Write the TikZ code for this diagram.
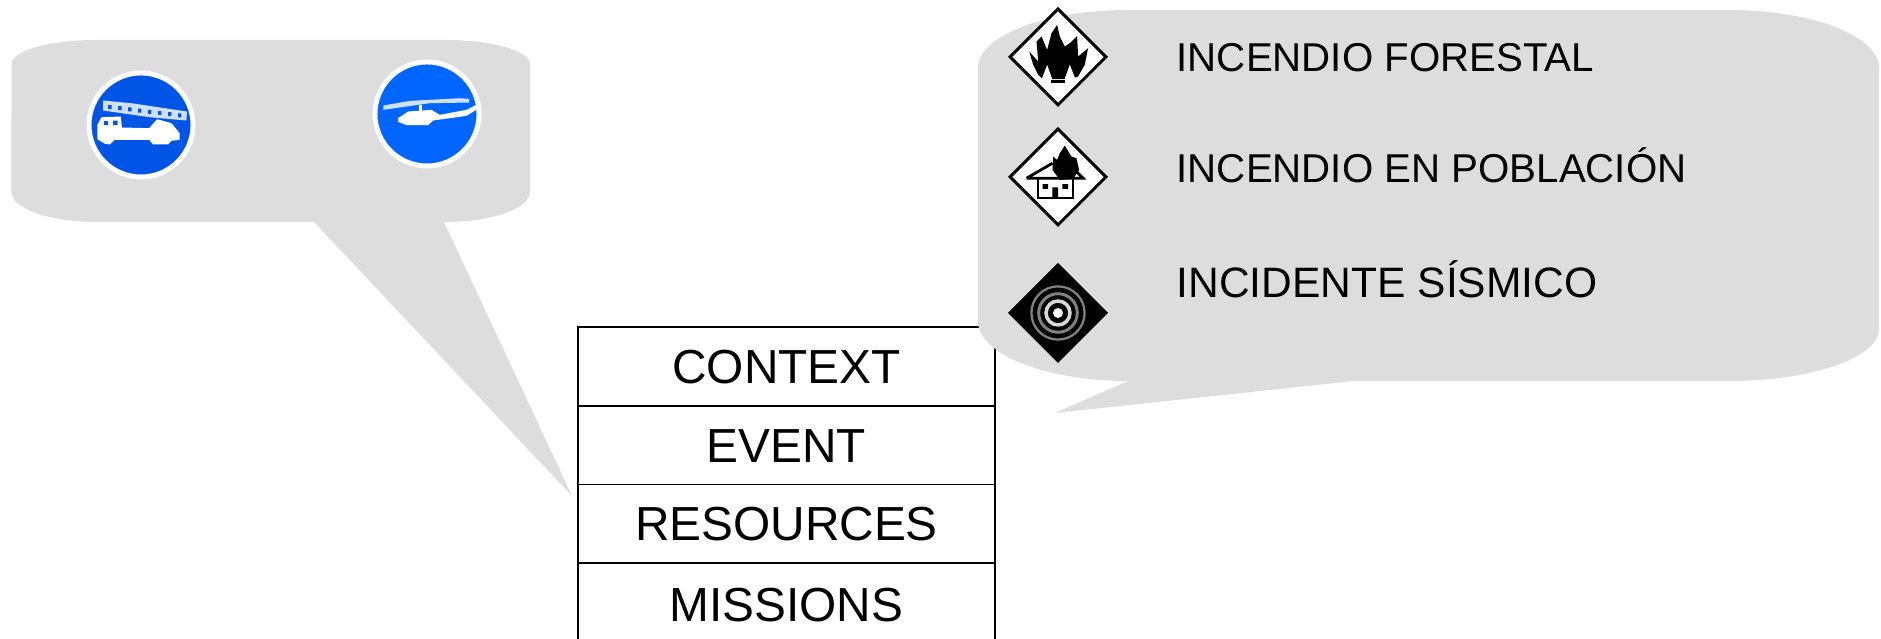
\documentclass[tikz,border=0pt]{standalone}
\usepackage{fontspec}
\setmainfont{Liberation Sans}
\usepackage{xcolor}
\usetikzlibrary{positioning,shapes,shapes.geometric}
\definecolor{bubblegray}{HTML}{DDDDDD}
\definecolor{truckblue}{HTML}{0055E6}
\definecolor{heliblue}{HTML}{0066FF}
\definecolor{paleblue}{HTML}{CFE0FB}

\begin{document}
\begin{tikzpicture}[-, node distance=0.7867cm,
	row/.style={rectangle, draw=black, line width=0.5pt, minimum width=4.17cm, minimum height=0.7867cm, inner sep=0pt, outer sep=0pt, text height=9.75pt, text depth=0pt, font=\fontsize{13.6}{16}\selectfont},
	lastrow/.style={row, draw=none, text height=10.9pt},
	event/.style={anchor=west, inner sep=0pt, text height=8.2pt, text depth=0pt, font=\fontsize{11.45}{14}\selectfont},
	hazard/.style={diamond, aspect=1, draw=black, fill=white, line width=0.85pt, minimum size=0.97cm, inner sep=0pt},
	sign/.style={circle, fill=#1, draw=white, line width=1.4pt, minimum size=1.04cm, inner sep=0pt}]
	\useasboundingbox (0,0) rectangle (18.81,6.39);

	% resources bubble
	\fill[bubblegray] (0.965,5.99) -- (4.45,5.99) arc[start angle=90, end angle=0, x radius=0.85, y radius=0.24] -- (5.30,4.47) arc[start angle=0, end angle=-90, x radius=0.85, y radius=0.30] -- (4.44,4.17) -- (5.72,1.43) -- (3.14,4.17) -- (0.965,4.17) arc[start angle=270, end angle=180, x radius=0.85, y radius=0.30] -- (0.115,5.75) arc[start angle=180, end angle=90, x radius=0.85, y radius=0.24] -- cycle;

	% table
	\node[row] (ctx) at (7.865,2.725) {CONTEXT};
	\node[row, below of = ctx] (evt) {EVENT};
	\node[row, below of = evt] (res) {RESOURCES};
	\node[lastrow, below of = res] (mis) {MISSIONS};
	\draw[line width=0.5pt] (mis.north west) -- (mis.south west);
	\draw[line width=0.5pt] (mis.north east) -- (mis.south east);

	% event bubble
	\fill[bubblegray] (11.28,6.29) -- (17.29,6.29) arc[start angle=90, end angle=0, x radius=1.50, y radius=0.58] -- (18.79,3.10) arc[start angle=0, end angle=-90, x radius=1.50, y radius=0.52] -- (13.54,2.58) -- (10.55,2.26) -- (11.28,2.58) arc[start angle=270, end angle=180, x radius=1.50, y radius=0.60] -- (9.78,5.71) arc[start angle=180, end angle=90, x radius=1.50, y radius=0.58] -- cycle;

	% truck sign
	\node[sign=truckblue] (truck) at (1.41,5.14) {};
	\begin{scope}[shift={(0.60,5.79)}, x=0.003333cm, y=-0.003333cm]
		\fill[paleblue] (130,122) -- (215,130) -- (382,155) -- (380,182) -- (270,172) -- (130,152) -- cycle;
		\fill[truckblue] \foreach \i in {145,175,205,235,265,295,325,355} {(\i,135+0.12*\i-17) rectangle ++(10,12)};
		\fill[white] (112,195) -- (125,172) -- (183,170) -- (186,203) -- (268,205) -- (292,178) -- (335,190) -- (360,220) -- (360,240) -- (335,243) -- (325,254) -- (280,254) -- (268,240) -- (165,240) -- (150,254) -- (135,252) -- (112,238) -- cycle;
		\fill[truckblue] (132,184) rectangle (145,196) (160,182) rectangle (173,196);
	\end{scope}

	% helicopter sign
	\node[sign=heliblue] (heli) at (4.27,5.25) {};
	\begin{scope}[shift={(3.50,5.89)}, x=0.003333cm, y=-0.003333cm]
		\fill[paleblue] (100,167) -- (180,153) -- (330,145) -- (358,147) -- (358,158) -- (240,160) -- (100,180) -- cycle;
		\fill[white] (145,205) -- (175,185) -- (245,180) -- (270,195) -- (350,180) -- (380,165) -- (385,177) -- (350,198) -- (250,212) -- (235,226) -- (170,226) -- (145,216) -- cycle;
		\fill[white] (206,165) rectangle (216,185);
	\end{scope}

	% hazards
	\node[hazard] (fire) at (10.58,5.82) {};
	\begin{scope}[shift={(9.70,6.39)}, x=0.003333cm, y=-0.003333cm]
		\fill[black] (178,155) -- (205,185) -- (200,125) -- (215,110) -- (232,150) -- (245,100) -- (262,75) -- (270,110) -- (285,140) -- (300,130) -- (322,108) -- (325,170) -- (355,145) -- (345,195) -- (325,230) -- (312,235) -- (300,200) -- (285,238) -- (245,238) -- (232,200) -- (222,240) -- (205,225) -- (190,195) -- cycle;
		\fill[white] (232,195) -- (248,240) -- (215,240) -- cycle (300,195) -- (318,240) -- (284,240) -- cycle;
		\fill[black] (245,241) rectangle (285,250);
	\end{scope}

	\node[hazard] (house) at (10.58,4.62) {};
	\begin{scope}[shift={(9.70,5.24)}, x=0.003333cm, y=-0.003333cm]
		\draw[black, line width=0.6pt, fill=white] (205,190) rectangle (310,250);
		\draw[black, line width=0.8pt] (170,190) -- (248,145) (315,165) -- (340,190) -- (170,190);
		\fill[black] (285,92) -- (305,125) -- (320,130) -- (328,165) -- (310,192) -- (270,195) -- (248,165) -- (250,125) -- (262,135) -- (270,115) -- cycle;
		\fill[black] (218,208) rectangle (235,222) (278,208) rectangle (295,222) (248,218) rectangle (265,250);
	\end{scope}

	\node[hazard, fill=black] (quake) at (10.58,3.26) {};
	\begin{scope}[shift={(10.58,3.26)}, x=0.003333cm, y=-0.003333cm]
		\draw[gray, line width=0.65pt] (0,0) circle (80);
		\draw[gray, line width=0.85pt] (0,0) circle (58);
		\draw[white!85!black, line width=1pt] (0,0) circle (36);
		\fill[white] (0,0) circle (15);
	\end{scope}

	\node[event] (forest) at (11.76,5.815) {INCENDIO FORESTAL};
	\node[event] (town) at (11.76,4.712) {INCENDIO EN POBLACIÓN};
	\node[event, font=\fontsize{12.1}{14}\selectfont] (seism) at (11.76,3.56) {INCIDENTE SÍSMICO};
\end{tikzpicture}
\end{document}
